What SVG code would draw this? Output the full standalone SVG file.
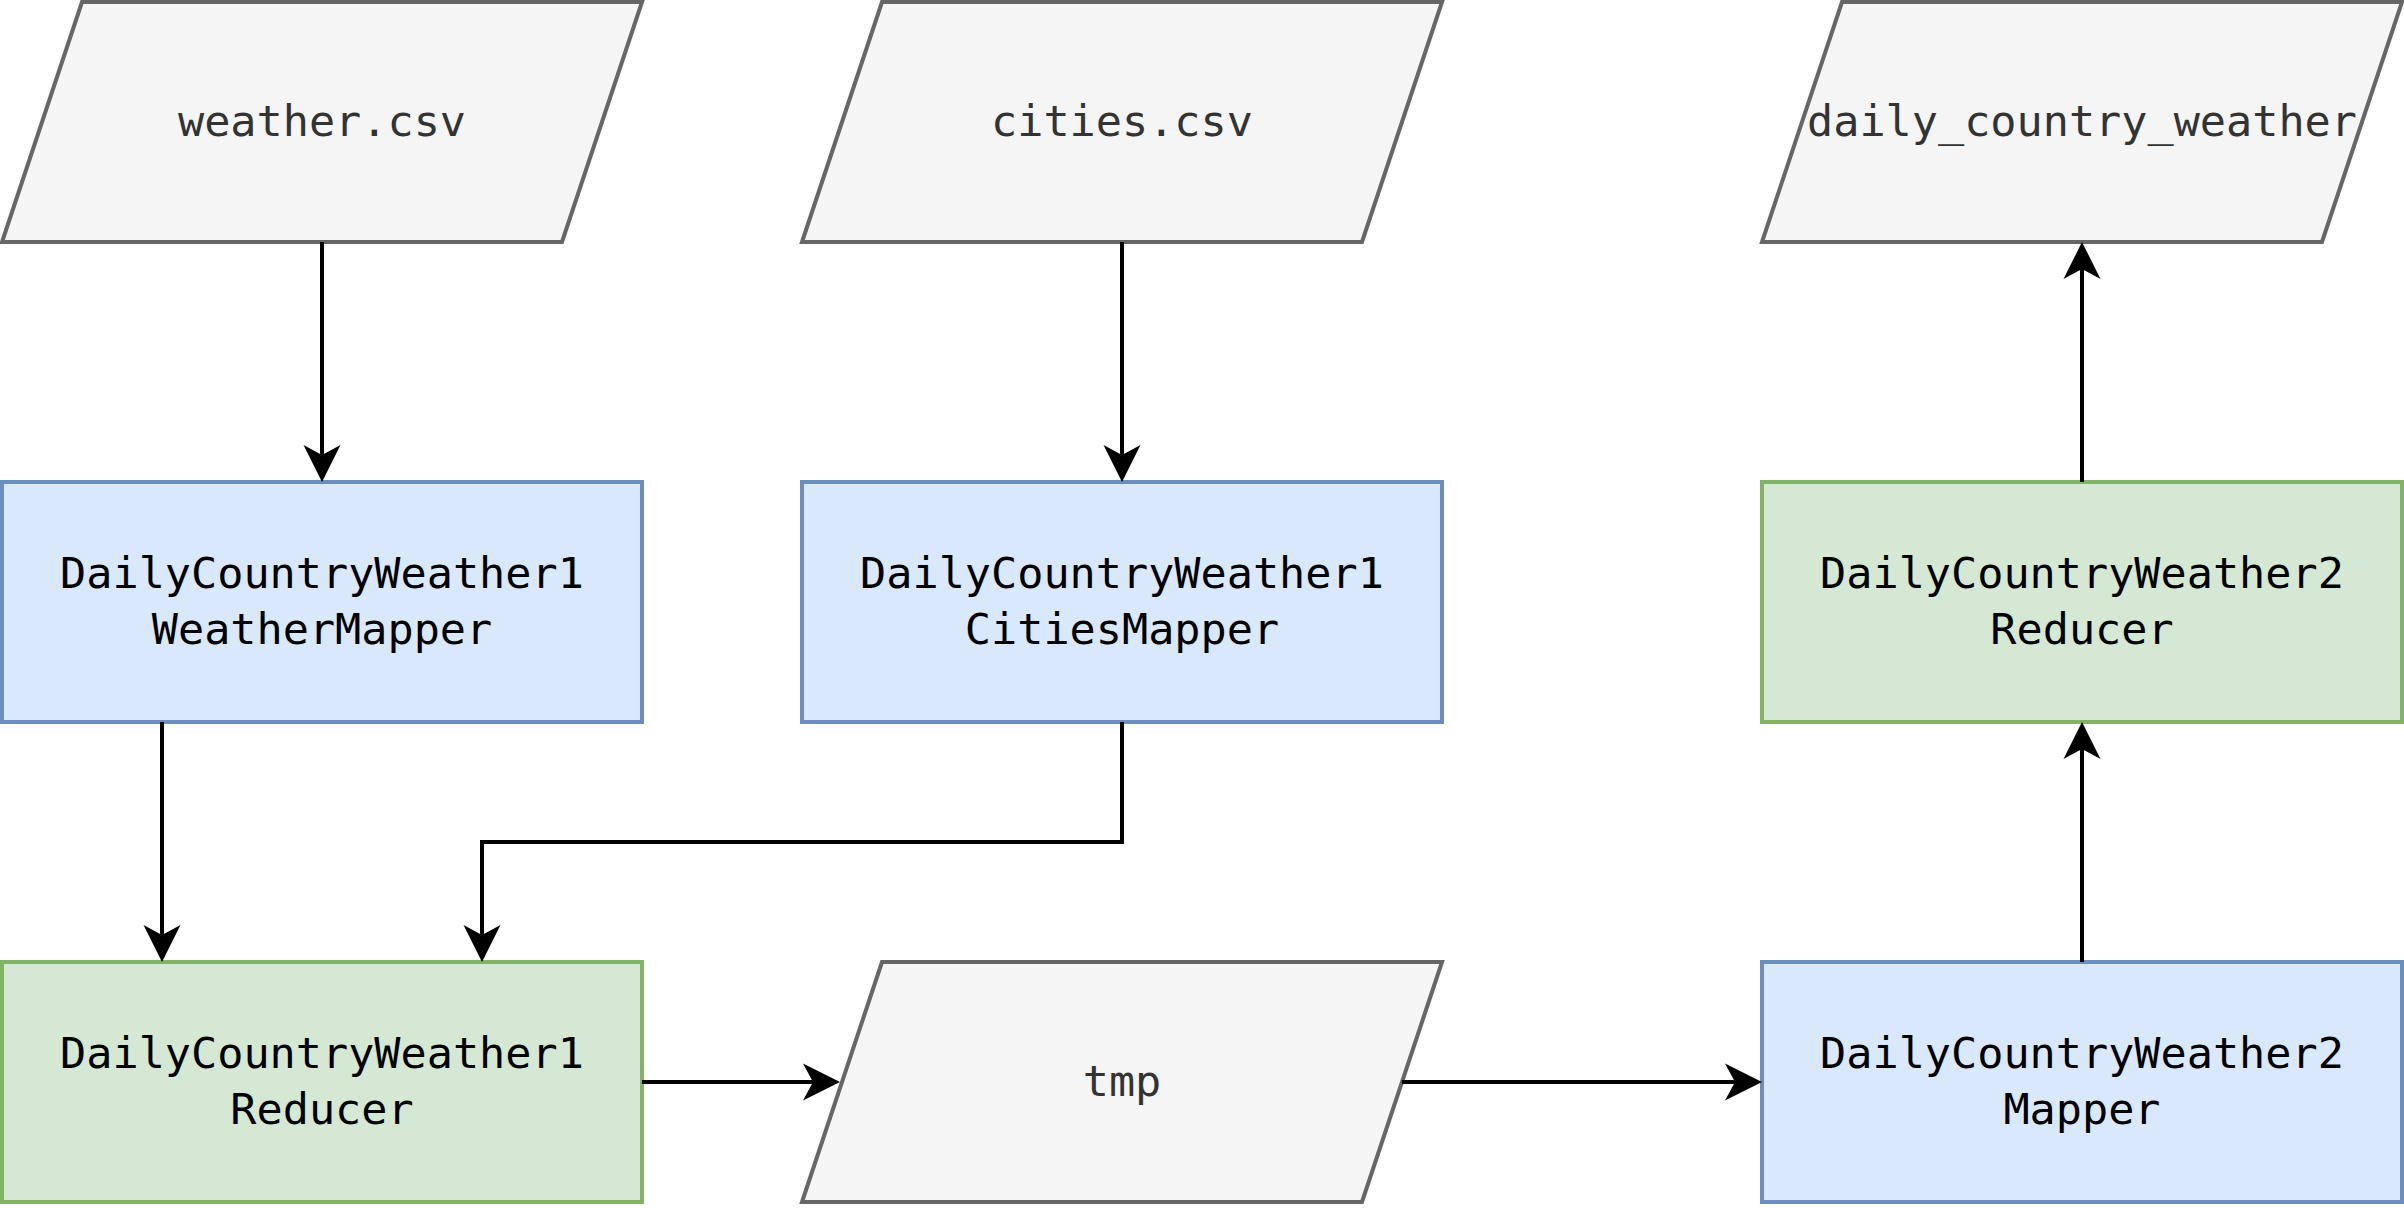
<svg xmlns="http://www.w3.org/2000/svg" width="2404" height="1208" viewBox="0 0 2404 1208">
<style>
.io{fill:#f5f5f5;stroke:#666666;stroke-width:4}
.map{fill:#dae8fc;stroke:#6c8ebf;stroke-width:4}
.red{fill:#d5e8d4;stroke:#82b366;stroke-width:4}
text{font-family:"DejaVu Sans Mono","Liberation Mono",monospace;font-size:43.5px;text-anchor:middle}
.tio{fill:#333333}
.tb{fill:#000000}
.edge{fill:none;stroke:#000000;stroke-width:4}
</style>
<defs>
<marker id="arr" markerUnits="userSpaceOnUse" viewBox="-40 -22 44 44" markerWidth="44" markerHeight="44" refX="-27" refY="0" orient="auto">
<path d="M0,0 L-37,-18.5 L-27,0 L-37,18.5 Z" fill="#000000"/>
</marker>
</defs>
<g id="weather_csv">
<polygon class="io" points="82,2 642,2 562,242 2,242"/>
<text class="tio" x="322" y="136">weather.csv</text>
</g>
<g id="cities_csv">
<polygon class="io" points="882,2 1442,2 1362,242 802,242"/>
<text class="tio" x="1122" y="136">cities.csv</text>
</g>
<g id="daily_country_weather">
<polygon class="io" points="1842,2 2402,2 2322,242 1762,242"/>
<text class="tio" x="2082" y="136">daily_country_weather</text>
</g>
<g id="weather_mapper">
<rect class="map" x="2" y="482" width="640" height="240"/>
<text class="tb" x="322" y="588">DailyCountryWeather1</text>
<text class="tb" x="322" y="644">WeatherMapper</text>
</g>
<g id="cities_mapper">
<rect class="map" x="802" y="482" width="640" height="240"/>
<text class="tb" x="1122" y="588">DailyCountryWeather1</text>
<text class="tb" x="1122" y="644">CitiesMapper</text>
</g>
<g id="reducer2">
<rect class="red" x="1762" y="482" width="640" height="240"/>
<text class="tb" x="2082" y="588">DailyCountryWeather2</text>
<text class="tb" x="2082" y="644">Reducer</text>
</g>
<g id="reducer1">
<rect class="red" x="2" y="962" width="640" height="240"/>
<text class="tb" x="322" y="1068">DailyCountryWeather1</text>
<text class="tb" x="322" y="1124">Reducer</text>
</g>
<g id="tmp">
<polygon class="io" points="882,962 1442,962 1362,1202 802,1202"/>
<text class="tio" x="1122" y="1096">tmp</text>
</g>
<g id="mapper2">
<rect class="map" x="1762" y="962" width="640" height="240"/>
<text class="tb" x="2082" y="1068">DailyCountryWeather2</text>
<text class="tb" x="2082" y="1124">Mapper</text>
</g>
<g id="connectors">
<path class="edge" marker-end="url(#arr)" d="M322,242 L322,455"/>
<path class="edge" marker-end="url(#arr)" d="M1122,242 L1122,455"/>
<path class="edge" marker-end="url(#arr)" d="M162,722 L162,935"/>
<path class="edge" marker-end="url(#arr)" d="M1122,722 L1122,842 L482,842 L482,935"/>
<path class="edge" marker-end="url(#arr)" d="M642,1082 L813,1082"/>
<path class="edge" marker-end="url(#arr)" d="M1402,1082 L1735,1082"/>
<path class="edge" marker-end="url(#arr)" d="M2082,962 L2082,749"/>
<path class="edge" marker-end="url(#arr)" d="M2082,482 L2082,269"/>
</g>
</svg>
